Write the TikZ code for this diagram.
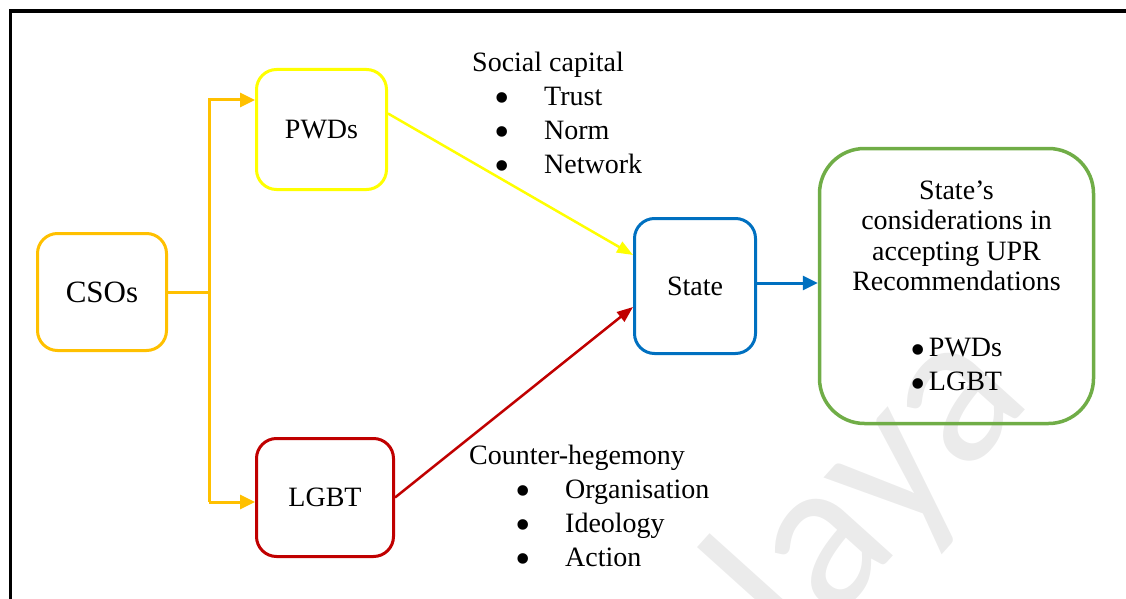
\documentclass[tikz,border=0pt]{standalone}
\usepackage{fontspec}
\setmainfont{Liberation Serif}
\newfontfamily\wmfont{Carlito}
\usetikzlibrary{arrows.meta,calc}
\definecolor{csoorange}{HTML}{FFC000}
\definecolor{pwdyellow}{HTML}{FFFF00}
\definecolor{lgbtred}{HTML}{C00000}
\definecolor{stateblue}{HTML}{0070C0}
\definecolor{upgreen}{HTML}{70AD47}
\definecolor{wmgray}{HTML}{EBEBEB}
% a bold list bullet (takes no vertical room)
\newcommand\blt{\raisebox{-7.5pt}[0pt][0pt]{\fontsize{44}{44}\selectfont •}}
\newcommand\sitem[1]{\hspace*{22.5pt}\makebox[49.5pt][l]{\blt}#1}
\newcommand\citem[1]{\hspace*{46.5pt}\makebox[49.5pt][l]{\blt}#1}

\begin{document}
\begin{tikzpicture}[x=1pt,y=-1pt,
  txt/.style={font=\fontsize{28}{34}\selectfont},
  box/.style={draw, line width=3pt, rounded corners=20pt, inner sep=0pt, align=center, txt},
  link/.style={line width=3pt},
  bigtip/.style={-{Triangle[length=15pt,width=14pt]}},
  slimtip/.style={-{Triangle[length=16pt,width=12pt]}},
  listtxt/.style={txt, inner sep=0pt, align=left, anchor=base west},
]
\useasboundingbox (0,0) rectangle (1126,599);

% faint watermark behind everything
\node[anchor=base east, rotate=48, text=wmgray, inner sep=0pt,
      font=\wmfont\fontsize{218}{218}\selectfont] (wm) at (1034,400) {Malaya};

% outer frame (top and left)
\coordinate (fbl) at (10.5,599);
\coordinate (ftl) at (10.5,11);
\coordinate (ftr) at (1126,11);
\draw[line width=3.5pt] (fbl) -- (ftl) -- (ftr);

% boxes
\node[box, draw=csoorange, minimum width=129pt, minimum height=117pt,
      font=\fontsize{31}{36}\selectfont] (csos) at (102,292) {CSOs};
\node[box, draw=pwdyellow, minimum width=130pt, minimum height=120pt] (pwds) at (321.5,129.5) {PWDs};
\node[box, draw=lgbtred, minimum width=137pt, minimum height=118pt] (lgbt) at (325,497.5) {LGBT};
\node[box, draw=stateblue, minimum width=121pt, minimum height=135pt] (state) at (695,286) {State};
\node[box, draw=upgreen, line width=3.5pt, rounded corners=45pt,
      minimum width=274pt, minimum height=275pt,
      font=\fontsize{28}{30.5}\selectfont] (upr) at (956.5,286)
  {State’s\\considerations in\\accepting UPR\\Recommendations\\[35.5pt]\makebox[18pt][l]{\blt}PWDs\\[3.5pt]\makebox[18pt][l]{\blt}LGBT};

% CSOs fan-out
\coordinate (tTop) at (209,100);
\coordinate (tBot) at (209,502);
\draw[link, csoorange] (csos.east) -- (csos.east -| tTop);
\draw[link, csoorange, bigtip] (tBot) -- (tTop) -- (tTop -| pwds.west);
\draw[link, csoorange, bigtip] (tBot) -- (tBot -| lgbt.west);

% into and out of the state
\draw[line width=2.5pt, pwdyellow, slimtip] ($(pwds.east)+(0,-16)$) -- ($(state.west)+(0,-31)$);
\draw[line width=2.5pt, lgbtred, slimtip] (lgbt.east) -- ($(state.west)+(0,21)$);
\draw[link, stateblue, bigtip] ($(state.east)+(0,-3)$) -- ($(state.east -| upr.west)+(0,-3)$);

% factor lists (anchored at the baseline of their last line)
\node[listtxt] (social) at (472,173)
  {Social capital\\\sitem{Trust}\\\sitem{Norm}\\\sitem{Network}};
\node[listtxt] (counter) at (469,566)
  {Counter-hegemony\\\citem{Organisation}\\\citem{Ideology}\\\citem{Action}};
\end{tikzpicture}
\end{document}
